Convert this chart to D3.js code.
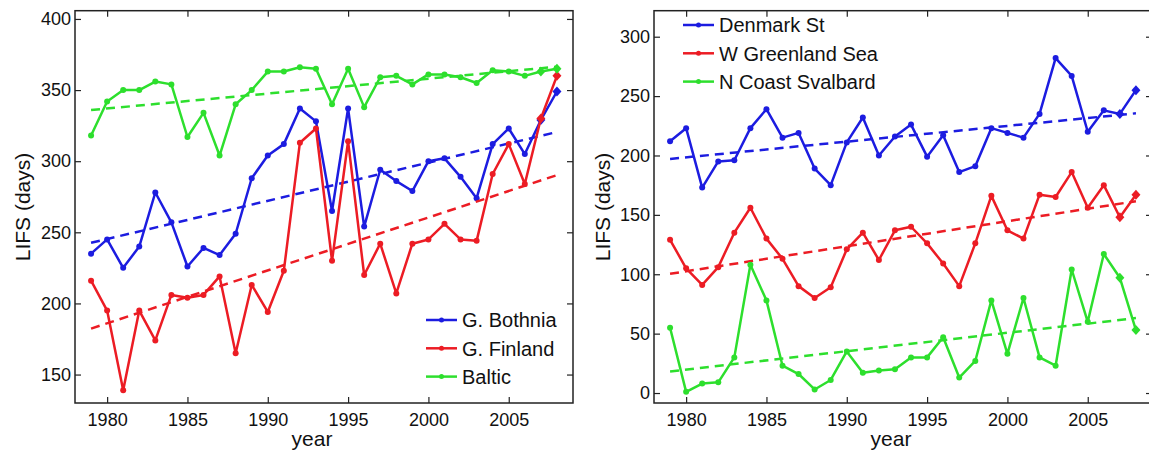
<!DOCTYPE html>
<html>
<head>
<meta charset="utf-8">
<script src="https://cdn.jsdelivr.net/npm/d3@7"></script>
<style>
  body { margin: 0; background: #fff; }
  svg { display: block; font-family: "Liberation Sans", Arial, sans-serif; }
</style>
</head>
<body>
<div id="chart"></div>
<script>
const width = 1149;
const height = 455;

const years = d3.range(1979, 2009);

// left panel: Baltic
const bothnia = [235, 245, 225, 240, 278, 257, 226, 239, 234, 249, 288, 304, 312, 337, 328, 265, 337, 254, 294, 286, 279, 300, 302, 289, 274, 312, 323, 305, 329, 349];
const finland = [216, 195, 139, 195, 174, 206, 204, 206, 219, 165, 213, 194, 223, 313, 323, 230, 314, 220, 242, 207, 242, 245, 256, 245, 244, 291, 312, 284, 330, 360];
const baltic = [318, 342, 350, 350, 356, 354, 317, 334, 304, 340, 350, 363, 363, 366, 365, 340, 365, 338, 359, 360, 354, 361, 361, 359, 355, 364, 363, 360, 363, 365];
const bothniaTrend = [242.6, 320.5];
const finlandTrend = [182.3, 290.2];
const balticTrend = [336, 366.4];

// right panel: Greenland / Svalbard
const denmark = [212, 223, 173, 195, 196, 223, 239, 215, 219, 189, 175, 211, 232, 200, 216, 226, 199, 217, 186, 191, 223, 219, 215, 235, 282, 267, 220, 238, 235, 255];
const greenland = [129, 105, 91, 106, 135, 156, 130, 113, 90, 80, 89, 121, 135, 112, 137, 140, 126, 109, 90, 126, 166, 137, 130, 167, 165, 186, 156, 175, 148, 167];
const svalbard = [55, 1, 8, 9, 30, 108, 78, 23, 16, 3, 11, 35, 17, 19, 20, 30, 30, 47, 13, 27, 78, 33, 80, 30, 23, 104, 60, 117, 97, 53];
const denmarkTrend = [197.1, 235.5];
const greenlandTrend = [100.4, 161.5];
const svalbardTrend = [18.2, 63.1];

const xTicks = [1980, 1985, 1990, 1995, 2000, 2005];
const leftYTicks = [150, 200, 250, 300, 350, 400];
const rightYTicks = [0, 50, 100, 150, 200, 250, 300];

const colors = { blue: "#1c1ce0", red: "#ec1c24", green: "#2ddf2d" };

const svg = d3.select("#chart").append("svg")
  .attr("width", width)
  .attr("height", height);

function drawPanel(opts) {
  const x = d3.scaleLinear().domain([1978, 2009]).range([opts.left, opts.right]);
  const y = d3.scaleLinear().domain(opts.yDomain).range([403, 10.7]);
  const g = svg.append("g");

  // box and inward ticks
  const tickLen = 6;
  g.append("g").attr("transform", "translate(0,403)")
    .call(d3.axisBottom(x).tickValues(xTicks).tickFormat(d3.format("d")).tickSizeInner(-tickLen).tickSizeOuter(0).tickPadding(10))
    .call(a => a.select(".domain").remove());
  g.append("g").attr("transform", "translate(0,10.7)")
    .call(d3.axisTop(x).tickValues(xTicks).tickFormat("").tickSizeInner(-tickLen).tickSizeOuter(0))
    .call(a => a.select(".domain").remove());
  g.append("g").attr("transform", `translate(${opts.left},0)`)
    .call(d3.axisLeft(y).tickValues(opts.yTicks).tickSizeInner(-tickLen).tickSizeOuter(0).tickPadding(4))
    .call(a => a.select(".domain").remove());
  g.append("g").attr("transform", `translate(${opts.right},0)`)
    .call(d3.axisRight(y).tickValues(opts.yTicks).tickFormat("").tickSizeInner(-tickLen).tickSizeOuter(0))
    .call(a => a.select(".domain").remove());
  g.selectAll(".tick line").attr("stroke", "#222").attr("stroke-width", 1.2);
  g.selectAll(".tick text").attr("font-size", 18).attr("fill", "#111")
    .attr("font-family", "Liberation Sans, Arial, sans-serif");

  g.append("rect")
    .attr("x", opts.left).attr("y", 10.7)
    .attr("width", opts.right - opts.left).attr("height", 403 - 10.7)
    .attr("fill", "none").attr("stroke", "#222").attr("stroke-width", 1.5);

  const line = d3.line().x((d, i) => x(years[i])).y(d => y(d));

  opts.series.forEach(s => {
    // trend
    g.append("line")
      .attr("x1", x(1979)).attr("y1", y(s.trend[0]))
      .attr("x2", x(2008)).attr("y2", y(s.trend[1]))
      .attr("stroke", s.color).attr("stroke-width", 2.5)
      .attr("stroke-dasharray", "9,6");
    g.append("path")
      .datum(s.values)
      .attr("d", line)
      .attr("fill", "none").attr("stroke", s.color).attr("stroke-width", 2.5)
      .attr("stroke-linejoin", "round");
    g.selectAll(null)
      .data(s.values.map((v, i) => ({ year: years[i], v })).filter(d => d.year < 2007))
      .join("circle")
      .attr("cx", d => x(d.year)).attr("cy", d => y(d.v)).attr("r", 3)
      .attr("fill", s.color);
    g.selectAll(null)
      .data(s.values.map((v, i) => ({ year: years[i], v })).filter(d => d.year >= 2007))
      .join("path")
      .attr("transform", d => `translate(${x(d.year)},${y(d.v)})`)
      .attr("d", "M0,-5L4.5,0L0,5L-4.5,0Z")
      .attr("fill", s.color);
  });

  // axis labels
  g.append("text")
    .attr("x", (opts.left + opts.right) / 2 - 12).attr("y", 446)
    .attr("text-anchor", "middle").attr("font-size", 21).attr("fill", "#111")
    .text("year");
  g.append("text")
    .attr("transform", `translate(${opts.labelX},207) rotate(-90)`)
    .attr("text-anchor", "middle").attr("font-size", 21).attr("fill", "#111")
    .text("LIFS (days)");

  // legend
  opts.series.forEach((s, i) => {
    const ly = opts.legend.y + i * 28.3;
    g.append("line")
      .attr("x1", opts.legend.x).attr("x2", opts.legend.x + 31)
      .attr("y1", ly).attr("y2", ly)
      .attr("stroke", s.color).attr("stroke-width", 2.5);
    g.append("circle")
      .attr("cx", opts.legend.x + 15.5).attr("cy", ly).attr("r", 2.5)
      .attr("fill", s.color);
    g.append("text")
      .attr("x", opts.legend.x + 36).attr("y", ly)
      .attr("dy", "0.36em").attr("font-size", 20).attr("fill", "#111")
      .text(s.name);
  });
}

drawPanel({
  left: 75, right: 573,
  yDomain: [130, 405.8],
  yTicks: leftYTicks,
  labelX: 30,
  legend: { x: 426, y: 320 },
  series: [
    { name: "G. Bothnia", values: bothnia, trend: bothniaTrend, color: colors.blue },
    { name: "G. Finland", values: finland, trend: finlandTrend, color: colors.red },
    { name: "Baltic", values: baltic, trend: balticTrend, color: colors.green },
  ],
});

drawPanel({
  left: 654, right: 1152,
  yDomain: [-8.4, 321.9],
  yTicks: rightYTicks,
  labelX: 610,
  legend: { x: 683, y: 25 },
  series: [
    { name: "Denmark St", values: denmark, trend: denmarkTrend, color: colors.blue },
    { name: "W Greenland Sea", values: greenland, trend: greenlandTrend, color: colors.red },
    { name: "N Coast Svalbard", values: svalbard, trend: svalbardTrend, color: colors.green },
  ],
});
</script>
</body>
</html>
